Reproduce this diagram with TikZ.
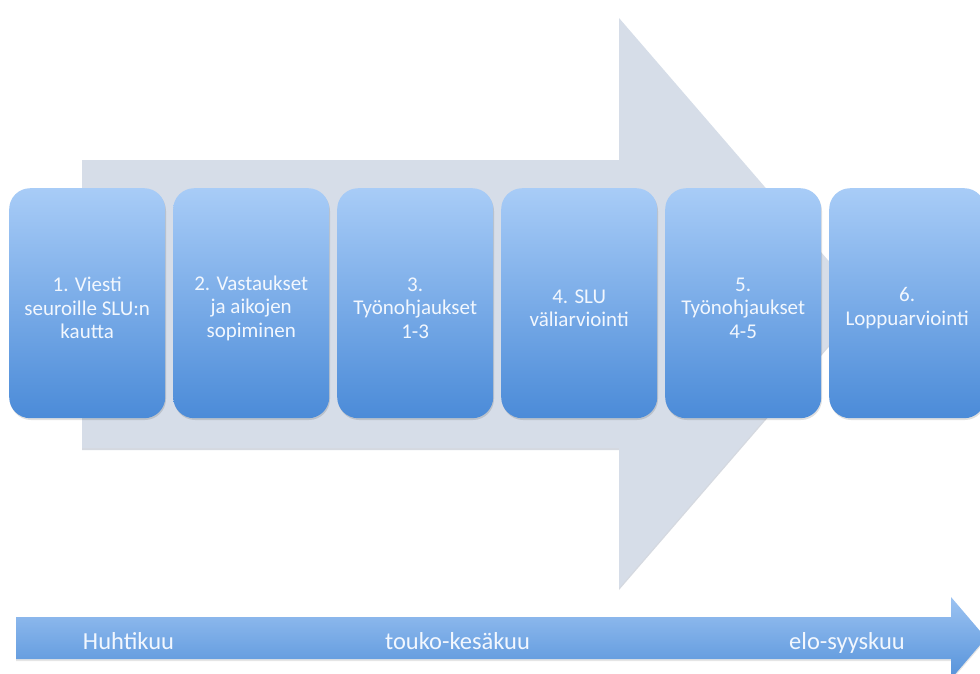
\documentclass[tikz,border=0pt]{standalone}
\usepackage{fontspec}
\setmainfont{Carlito}
\definecolor{greyarrow}{HTML}{D6DDE8}
\definecolor{greyshadow}{HTML}{B9C0CC}
\definecolor{boxtop}{HTML}{A8CCF7}
\definecolor{boxbot}{HTML}{4B8BD8}
\definecolor{bartop}{HTML}{9CC3F2}
\definecolor{barbot}{HTML}{5592DA}
\definecolor{txt}{HTML}{F2F7FE}
\tikzset{
  stepbox/.style={rounded corners=21pt, minimum width=156pt, minimum height=230pt,
    top color=boxtop, bottom color=boxbot, draw=none, anchor=north west, inner sep=0pt},
  steptext/.style={text=txt, align=center, font=\fontsize{21}{23.5}\selectfont, inner sep=0pt},
  barlabel/.style={text=txt, font=\fontsize{24.5}{28}\selectfont, anchor=base},
  boxshadow/.style={fill=black, opacity=0.12, rounded corners=21pt}
}
\begin{document}
\begin{tikzpicture}[x=1pt,y=-1pt]
\useasboundingbox (0,0) rectangle (980,673);
\fill[white] (0,0) rectangle (980,673);
% big grey arrow with faint shadow
\fill[greyshadow,opacity=0.6] (82,162) -- (619,162) -- (619,20) -- (865,305) -- (619,590) -- (619,450) -- (82,450) -- cycle;
\fill[greyarrow] (82,160) -- (619,160) -- (619,18) -- (865,303) -- (619,588) -- (619,448) -- (82,448) -- cycle;
% box shadows
\foreach \x in {9,173,337,501,665,829}{
  \fill[boxshadow] (\x+1,190) rectangle (\x+157,420);
}
% step boxes
\node[stepbox] (b1) at (9,188) {};
\node[stepbox] (b2) at (173,188) {};
\node[stepbox] (b3) at (337,188) {};
\node[stepbox] (b4) at (501,188) {};
\node[stepbox] (b5) at (665,188) {};
\node[stepbox] (b6) at (829,188) {};
\node[steptext] (t1) at ([yshift=-5pt]b1.center) {1. Viesti\\seuroille SLU:n\\kautta};
\node[steptext] (t2) at ([yshift=-5pt]b2.center) {2. Vastaukset\\ja aikojen\\sopiminen};
\node[steptext] (t3) at ([yshift=-5pt]b3.center) {3.\\Työnohjaukset\\1-3};
\node[steptext] (t4) at ([yshift=-5pt]b4.center) {4. SLU\\väliarviointi};
\node[steptext] (t5) at ([yshift=-5pt]b5.center) {5.\\Työnohjaukset\\4-5};
\node[steptext] (t6) at ([yshift=-5pt]b6.center) {6.\\Loppuarviointi};
% timeline arrow
\fill[black,opacity=0.10] (16,619) -- (951,619) -- (951,599) -- (986,640) -- (951,681) -- (951,661) -- (16,661) -- cycle;
\shade[top color=bartop, bottom color=barbot] (16,617) -- (951,617) -- (951,597) -- (986,638) -- (951,679) -- (951,659) -- (16,659) -- cycle;
\node[barlabel] (m1) at (128.5,649) {Huhtikuu};
\node[barlabel] (m2) at (457.5,649) {touko-kesäkuu};
\node[barlabel] (m3) at (847,649) {elo-syyskuu};
\end{tikzpicture}
\end{document}
